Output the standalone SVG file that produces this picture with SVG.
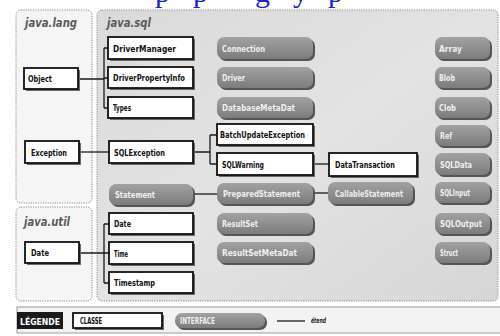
<svg xmlns="http://www.w3.org/2000/svg" width="500" height="336" viewBox="0 0 500 336">
<defs>
<linearGradient id="ig" x1="0" y1="0" x2="0" y2="1">
<stop offset="0" stop-color="#a2a2a2"/>
<stop offset="1" stop-color="#7c7c7c"/>
</linearGradient>
<linearGradient id="sqlbg" x1="0" y1="0" x2="1" y2="1">
<stop offset="0" stop-color="#dadada"/>
<stop offset="0.5" stop-color="#e3e3e3"/>
<stop offset="1" stop-color="#d6d6d6"/>
</linearGradient>
</defs>
<style>
.pan{stroke:#8a8a8a;stroke-width:1;stroke-dasharray:1.2 1.2}
.pl{font-family:"DejaVu Sans Condensed","DejaVu Sans",sans-serif;font-weight:bold;font-style:italic;font-size:13px;fill:#5a5a5a}
.cs{fill:#6a6a6a}
.cb{fill:#ffffff;stroke:#111;stroke-width:1.8}
.is{fill:#555}
.ib{fill:url(#ig)}
.t{font-family:"DejaVu Sans Condensed","DejaVu Sans",sans-serif;font-weight:bold;font-size:9.5px}
.tc{fill:#111}
.ti{fill:#efefef}
.ln{stroke:#1a1a1a;stroke-width:1.3;fill:none}
.blue{font-family:"Liberation Serif",serif;font-size:30px;fill:#1c22c8}
</style>
<rect width="500" height="336" fill="#ffffff"/>
<g id="watermark">
<text class="blue" x="155" y="2">p</text>
<text class="blue" x="193" y="2">p</text>
<text class="blue" x="255" y="2">g</text>
<text class="blue" x="293" y="2">y</text>
<text class="blue" x="328" y="2">p</text>
</g>
<g id="panels">
<rect class="pan" x="16" y="10" width="76" height="193" rx="5" fill="#f5f5f5"/>
<rect class="pan" x="16" y="207" width="76" height="94" rx="5" fill="#f5f5f5"/>
<rect class="pan" x="97" y="10" width="401" height="291" rx="5" fill="url(#sqlbg)"/>
<text class="pl" x="25" y="27" textLength="52" lengthAdjust="spacingAndGlyphs">java.lang</text>
<text class="pl" x="107" y="27" textLength="44" lengthAdjust="spacingAndGlyphs">java.sql</text>
<text class="pl" x="24" y="226" textLength="46" lengthAdjust="spacingAndGlyphs">java.util</text>
</g>
<g id="connectors">
<path class="ln" d="M78 79 H104 M104 48 V108 M104 48 H108 M104 78 H108 M104 108 H108"/>
<path class="ln" d="M79 152 H109"/>
<path class="ln" d="M193 152 H210 M210 135 V164 M210 135 H217 M210 164 H217"/>
<path class="ln" d="M313 164 H329"/>
<path class="ln" d="M193 194 H217"/>
<path class="ln" d="M313 193 H328"/>
<path class="ln" d="M79 253 H104 M104 224 V283 M104 224 H109 M104 253 H109 M104 283 H109"/>
</g>
<g id="n-object"><rect class="cs" x="26" y="70" width="54" height="21"/><rect class="cb" x="24" y="68" width="54" height="21"/><text class="t tc" x="28" y="82" textLength="24" lengthAdjust="spacingAndGlyphs">Object</text></g>
<g id="n-exception"><rect class="cs" x="27" y="143" width="54" height="22"/><rect class="cb" x="25" y="141" width="54" height="22"/><text class="t tc" x="31" y="155.5" textLength="36" lengthAdjust="spacingAndGlyphs">Exception</text></g>
<g id="n-date-util"><rect class="cs" x="27" y="244" width="54" height="21"/><rect class="cb" x="25" y="242" width="54" height="21"/><text class="t tc" x="31" y="256" textLength="18" lengthAdjust="spacingAndGlyphs">Date</text></g>
<g id="n-drivermanager"><rect class="cs" x="110" y="39" width="85" height="22"/><rect class="cb" x="108" y="37" width="85" height="22"/><text class="t tc" x="113" y="51.5" textLength="63" lengthAdjust="spacingAndGlyphs">DriverManager</text></g>
<g id="n-driverpropertyinfo"><rect class="cs" x="110" y="69" width="85" height="21"/><rect class="cb" x="108" y="67" width="85" height="21"/><text class="t tc" x="113" y="81" textLength="72" lengthAdjust="spacingAndGlyphs">DriverPropertyInfo</text></g>
<g id="n-types"><rect class="cs" x="110" y="99" width="85" height="21"/><rect class="cb" x="108" y="97" width="85" height="21"/><text class="t tc" x="113" y="111" textLength="18" lengthAdjust="spacingAndGlyphs">Types</text></g>
<g id="n-sqlexception"><rect class="cs" x="111" y="143" width="84" height="22"/><rect class="cb" x="109" y="141" width="84" height="22"/><text class="t tc" x="114" y="155.5" textLength="51" lengthAdjust="spacingAndGlyphs">SQLException</text></g>
<g id="n-batchupdateexception"><rect class="cs" x="219" y="126" width="96" height="21"/><rect class="cb" x="217" y="124" width="96" height="21"/><text class="t tc" x="220" y="138" textLength="85" lengthAdjust="spacingAndGlyphs">BatchUpdateException</text></g>
<g id="n-sqlwarning"><rect class="cs" x="219" y="155" width="96" height="22"/><rect class="cb" x="217" y="153" width="96" height="22"/><text class="t tc" x="222" y="167.5" textLength="42" lengthAdjust="spacingAndGlyphs">SQLWarning</text></g>
<g id="n-datatransaction"><rect class="cs" x="331" y="155" width="88" height="23"/><rect class="cb" x="329" y="153" width="88" height="23"/><text class="t tc" x="335" y="168" textLength="60" lengthAdjust="spacingAndGlyphs">DataTransaction</text></g>
<g id="n-date-sql"><rect class="cs" x="111" y="215" width="84" height="21"/><rect class="cb" x="109" y="213" width="84" height="21"/><text class="t tc" x="114" y="227" textLength="17" lengthAdjust="spacingAndGlyphs">Date</text></g>
<g id="n-time"><rect class="cs" x="111" y="244" width="84" height="22"/><rect class="cb" x="109" y="242" width="84" height="22"/><text class="t tc" x="114" y="256.5" textLength="14" lengthAdjust="spacingAndGlyphs">Time</text></g>
<g id="n-timestamp"><rect class="cs" x="111" y="274" width="84" height="21"/><rect class="cb" x="109" y="272" width="84" height="21"/><text class="t tc" x="114" y="286" textLength="41" lengthAdjust="spacingAndGlyphs">Timestamp</text></g>
<g id="n-connection"><rect class="is" x="219" y="39" width="96" height="22" rx="7"/><rect class="ib" x="217" y="37" width="96" height="22" rx="7"/><text class="t ti" x="222" y="51.5" textLength="43" lengthAdjust="spacingAndGlyphs">Connection</text></g>
<g id="n-driver"><rect class="is" x="219" y="69" width="96" height="21" rx="7"/><rect class="ib" x="217" y="67" width="96" height="21" rx="7"/><text class="t ti" x="222" y="81" textLength="23" lengthAdjust="spacingAndGlyphs">Driver</text></g>
<g id="n-databasemetadat"><rect class="is" x="219" y="99" width="96" height="21" rx="7"/><rect class="ib" x="217" y="97" width="96" height="21" rx="7"/><text class="t ti" x="222" y="111" textLength="73" lengthAdjust="spacingAndGlyphs">DatabaseMetaDat</text></g>
<g id="n-statement"><rect class="is" x="111" y="186" width="84" height="21" rx="7"/><rect class="ib" x="109" y="184" width="84" height="21" rx="7"/><text class="t ti" x="115" y="198" textLength="40" lengthAdjust="spacingAndGlyphs">Statement</text></g>
<g id="n-preparedstatement"><rect class="is" x="219" y="185" width="96" height="21" rx="7"/><rect class="ib" x="217" y="183" width="96" height="21" rx="7"/><text class="t ti" x="223" y="197" textLength="77" lengthAdjust="spacingAndGlyphs">PreparedStatement</text></g>
<g id="n-callablestatement"><rect class="is" x="330" y="184" width="85" height="22" rx="7"/><rect class="ib" x="328" y="182" width="85" height="22" rx="7"/><text class="t ti" x="335" y="196.5" textLength="68" lengthAdjust="spacingAndGlyphs">CallableStatement</text></g>
<g id="n-resultset"><rect class="is" x="219" y="215" width="96" height="21" rx="7"/><rect class="ib" x="217" y="213" width="96" height="21" rx="7"/><text class="t ti" x="222" y="227" textLength="36" lengthAdjust="spacingAndGlyphs">ResultSet</text></g>
<g id="n-resultsetmetadat"><rect class="is" x="219" y="244" width="96" height="21" rx="7"/><rect class="ib" x="217" y="242" width="96" height="21" rx="7"/><text class="t ti" x="222" y="256" textLength="75" lengthAdjust="spacingAndGlyphs">ResultSetMetaDat</text></g>
<g id="n-array"><rect class="is" x="437" y="39" width="55" height="22" rx="7"/><rect class="ib" x="435" y="37" width="55" height="22" rx="7"/><text class="t ti" x="439" y="51.5" textLength="23" lengthAdjust="spacingAndGlyphs">Array</text></g>
<g id="n-blob"><rect class="is" x="437" y="69" width="55" height="21" rx="7"/><rect class="ib" x="435" y="67" width="55" height="21" rx="7"/><text class="t ti" x="439" y="81" textLength="16" lengthAdjust="spacingAndGlyphs">Blob</text></g>
<g id="n-clob"><rect class="is" x="437" y="99" width="55" height="21" rx="7"/><rect class="ib" x="435" y="97" width="55" height="21" rx="7"/><text class="t ti" x="439" y="111" textLength="17" lengthAdjust="spacingAndGlyphs">Clob</text></g>
<g id="n-ref"><rect class="is" x="437" y="127" width="55" height="21" rx="7"/><rect class="ib" x="435" y="125" width="55" height="21" rx="7"/><text class="t ti" x="440" y="139" textLength="12" lengthAdjust="spacingAndGlyphs">Ref</text></g>
<g id="n-sqldata"><rect class="is" x="437" y="155" width="55" height="22" rx="7"/><rect class="ib" x="435" y="153" width="55" height="22" rx="7"/><text class="t ti" x="440" y="167.5" textLength="32" lengthAdjust="spacingAndGlyphs">SQLData</text></g>
<g id="n-sqlinput"><rect class="is" x="437" y="184" width="55" height="21" rx="7"/><rect class="ib" x="435" y="182" width="55" height="21" rx="7"/><text class="t ti" x="440" y="196" textLength="30" lengthAdjust="spacingAndGlyphs">SQLInput</text></g>
<g id="n-sqloutput"><rect class="is" x="437" y="215" width="55" height="21" rx="7"/><rect class="ib" x="435" y="213" width="55" height="21" rx="7"/><text class="t ti" x="440" y="227" textLength="42" lengthAdjust="spacingAndGlyphs">SQLOutput</text></g>
<g id="n-struct"><rect class="is" x="437" y="244" width="55" height="21" rx="7"/><rect class="ib" x="435" y="242" width="55" height="21" rx="7"/><text class="t ti" x="440" y="256" textLength="18" lengthAdjust="spacingAndGlyphs">Struct</text></g>
<g id="legend">
<rect x="17" y="307" width="490" height="26" fill="#f3f3f3" stroke="#9a9a9a" stroke-width="1"/>
<rect x="17" y="312" width="46" height="17" fill="#1a1a1a"/>
<text class="t" x="20" y="324.5" fill="#ffffff" textLength="40" lengthAdjust="spacingAndGlyphs">LÉGENDE</text>
<rect class="cs" x="75" y="315" width="89" height="15"/>
<rect class="cb" x="73" y="313" width="89" height="15"/>
<text class="t tc" x="80" y="323.5" font-size="7.5" textLength="22" lengthAdjust="spacingAndGlyphs">CLASSE</text>
<rect class="is" x="177" y="315" width="90" height="15" rx="7"/>
<rect class="ib" x="175" y="313" width="90" height="15" rx="7"/>
<text class="t ti" x="180" y="323.5" font-size="7.5" textLength="35" lengthAdjust="spacingAndGlyphs">INTERFACE</text>
<line class="ln" x1="277" y1="321" x2="305" y2="321"/>
<text x="311" y="323" font-family="DejaVu Sans Condensed,DejaVu Sans,sans-serif" font-style="italic" font-weight="bold" font-size="7.5" fill="#222" textLength="15" lengthAdjust="spacingAndGlyphs">étend</text>
</g>
</svg>
